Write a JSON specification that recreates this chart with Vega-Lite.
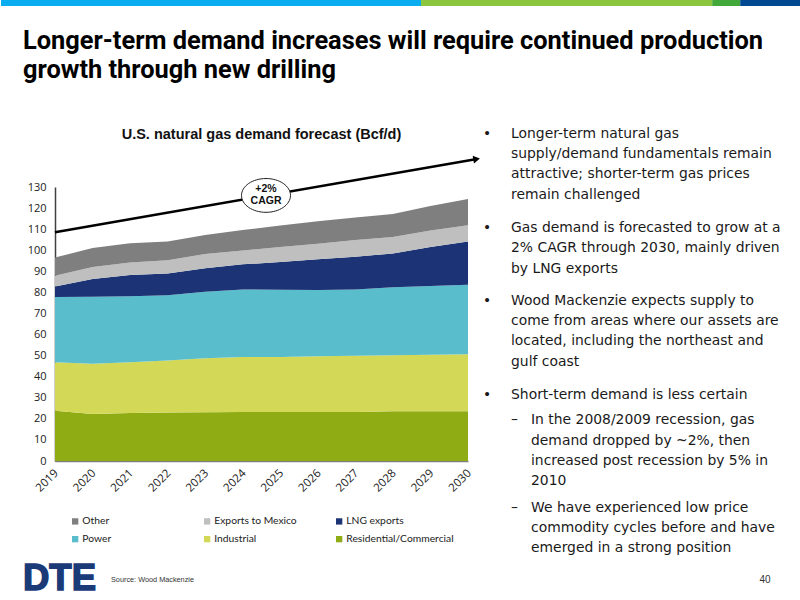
{
  "$schema": "https://vega.github.io/schema/vega-lite/v6.json",
  "padding": 0,
  "background": "white",
  "spacing": 6,
  "config": {"view": {"stroke": null}},
  "resolve": {"scale": {"color": "independent"}},
  "vconcat": [
    {
      "spacing": 23,
      "resolve": {"scale": {"color": "independent"}},
      "vconcat": [
        {
          "width": 746,
          "height": 6,
          "data": {"values": [
            {"segment": "a", "share": 52.5, "rank": 1},
            {"segment": "b", "share": 36.4, "rank": 2},
            {"segment": "c", "share": 3.5, "rank": 3},
            {"segment": "d", "share": 7.6, "rank": 4}
          ]},
          "mark": {"type": "bar", "size": 6},
          "encoding": {
            "x": {"field": "share", "type": "quantitative", "stack": "zero", "axis": null, "scale": {"domain": [6.75, 100], "nice": false, "zero": false}},
            "order": {"field": "rank"},
            "color": {"field": "segment", "type": "nominal", "legend": null, "scale": {"domain": ["a", "b", "c", "d"], "range": ["#0aaef0", "#8cc63f", "#43a83a", "#004990"]}}
          }
        },
        {
          "title": {
            "text": ["Longer-term demand increases will require continued production", "growth through new drilling"],
            "anchor": "start",
            "dx": 22,
            "offset": 43,
            "font": "Roboto",
            "fontSize": 25.4,
            "fontWeight": "bold",
            "color": "#000000",
            "lineHeight": 29
          },
          "spacing": 2,
          "hconcat": [
            {
              "width": 413,
              "height": 274,
              "title": {
                "text": "U.S. natural gas demand forecast (Bcf/d)",
                "font": "Liberation Sans",
                "fontSize": 14.5,
                "fontWeight": "bold",
                "color": "#111111",
                "offset": 12
              },
              "encoding": {
                "x": {
                  "field": "year",
                  "type": "quantitative",
                  "title": null,
                  "scale": {"domain": [2019, 2030], "nice": false, "zero": false},
                  "axis": {
                    "values": [2019, 2020, 2021, 2022, 2023, 2024, 2025, 2026, 2027, 2028, 2029, 2030],
                    "format": "d",
                    "labelAngle": -45,
                    "labelFont": "Open Sans",
                    "labelFontSize": 11.5,
                    "labelColor": "#222222",
                    "ticks": false,
                    "grid": false,
                    "domainColor": "#7f7f7f",
                    "domainWidth": 1.5,
                    "labelPadding": 6,
                    "labelOffset": -3,
                    "labelBound": false,
                    "labelFlush": false,
                    "labelOverlap": false
                  }
                },
                "y": {
                  "field": "bcfd",
                  "type": "quantitative",
                  "stack": "zero",
                  "title": null,
                  "scale": {"domain": [0, 130], "nice": false},
                  "axis": {
                    "values": [0, 10, 20, 30, 40, 50, 60, 70, 80, 90, 100, 110, 120, 130],
                    "labelFont": "Open Sans",
                    "labelFontSize": 11,
                    "labelColor": "#222222",
                    "ticks": false,
                    "grid": false,
                    "domainColor": "#404040",
                    "domainWidth": 1.5,
                    "labelPadding": 9,
                    "labelOverlap": false,
                    "minExtent": 54,
                    "maxExtent": 54
                  }
                }
              },
              "layer": [
                {
                  "data": {"values": [
                    {"year": 2019, "series": "Residential/Commercial", "rank": 1, "bcfd": 23.8},
                    {"year": 2020, "series": "Residential/Commercial", "rank": 1, "bcfd": 22.3},
                    {"year": 2021, "series": "Residential/Commercial", "rank": 1, "bcfd": 22.8},
                    {"year": 2022, "series": "Residential/Commercial", "rank": 1, "bcfd": 23.0},
                    {"year": 2023, "series": "Residential/Commercial", "rank": 1, "bcfd": 23.1},
                    {"year": 2024, "series": "Residential/Commercial", "rank": 1, "bcfd": 23.3},
                    {"year": 2025, "series": "Residential/Commercial", "rank": 1, "bcfd": 23.3},
                    {"year": 2026, "series": "Residential/Commercial", "rank": 1, "bcfd": 23.3},
                    {"year": 2027, "series": "Residential/Commercial", "rank": 1, "bcfd": 23.3},
                    {"year": 2028, "series": "Residential/Commercial", "rank": 1, "bcfd": 23.6},
                    {"year": 2029, "series": "Residential/Commercial", "rank": 1, "bcfd": 23.6},
                    {"year": 2030, "series": "Residential/Commercial", "rank": 1, "bcfd": 23.6},
                    {"year": 2019, "series": "Industrial", "rank": 2, "bcfd": 23.1},
                    {"year": 2020, "series": "Industrial", "rank": 2, "bcfd": 23.8},
                    {"year": 2021, "series": "Industrial", "rank": 2, "bcfd": 24.1},
                    {"year": 2022, "series": "Industrial", "rank": 2, "bcfd": 24.7},
                    {"year": 2023, "series": "Industrial", "rank": 2, "bcfd": 25.7},
                    {"year": 2024, "series": "Industrial", "rank": 2, "bcfd": 26.0},
                    {"year": 2025, "series": "Industrial", "rank": 2, "bcfd": 26.1},
                    {"year": 2026, "series": "Industrial", "rank": 2, "bcfd": 26.4},
                    {"year": 2027, "series": "Industrial", "rank": 2, "bcfd": 26.6},
                    {"year": 2028, "series": "Industrial", "rank": 2, "bcfd": 26.6},
                    {"year": 2029, "series": "Industrial", "rank": 2, "bcfd": 26.8},
                    {"year": 2030, "series": "Industrial", "rank": 2, "bcfd": 27.1},
                    {"year": 2019, "series": "Power", "rank": 3, "bcfd": 30.9},
                    {"year": 2020, "series": "Power", "rank": 3, "bcfd": 31.8},
                    {"year": 2021, "series": "Power", "rank": 3, "bcfd": 31.3},
                    {"year": 2022, "series": "Power", "rank": 3, "bcfd": 31.0},
                    {"year": 2023, "series": "Power", "rank": 3, "bcfd": 31.5},
                    {"year": 2024, "series": "Power", "rank": 3, "bcfd": 32.1},
                    {"year": 2025, "series": "Power", "rank": 3, "bcfd": 31.8},
                    {"year": 2026, "series": "Power", "rank": 3, "bcfd": 31.4},
                    {"year": 2027, "series": "Power", "rank": 3, "bcfd": 31.5},
                    {"year": 2028, "series": "Power", "rank": 3, "bcfd": 32.2},
                    {"year": 2029, "series": "Power", "rank": 3, "bcfd": 32.6},
                    {"year": 2030, "series": "Power", "rank": 3, "bcfd": 32.9},
                    {"year": 2019, "series": "LNG exports", "rank": 4, "bcfd": 5.0},
                    {"year": 2020, "series": "LNG exports", "rank": 4, "bcfd": 8.4},
                    {"year": 2021, "series": "LNG exports", "rank": 4, "bcfd": 10.0},
                    {"year": 2022, "series": "LNG exports", "rank": 4, "bcfd": 10.3},
                    {"year": 2023, "series": "LNG exports", "rank": 4, "bcfd": 11.2},
                    {"year": 2024, "series": "LNG exports", "rank": 4, "bcfd": 11.9},
                    {"year": 2025, "series": "LNG exports", "rank": 4, "bcfd": 13.2},
                    {"year": 2026, "series": "LNG exports", "rank": 4, "bcfd": 14.6},
                    {"year": 2027, "series": "LNG exports", "rank": 4, "bcfd": 15.5},
                    {"year": 2028, "series": "LNG exports", "rank": 4, "bcfd": 16.1},
                    {"year": 2029, "series": "LNG exports", "rank": 4, "bcfd": 18.5},
                    {"year": 2030, "series": "LNG exports", "rank": 4, "bcfd": 20.6},
                    {"year": 2019, "series": "Exports to Mexico", "rank": 5, "bcfd": 5.1},
                    {"year": 2020, "series": "Exports to Mexico", "rank": 5, "bcfd": 5.7},
                    {"year": 2021, "series": "Exports to Mexico", "rank": 5, "bcfd": 6.0},
                    {"year": 2022, "series": "Exports to Mexico", "rank": 5, "bcfd": 6.3},
                    {"year": 2023, "series": "Exports to Mexico", "rank": 5, "bcfd": 6.7},
                    {"year": 2024, "series": "Exports to Mexico", "rank": 5, "bcfd": 6.6},
                    {"year": 2025, "series": "Exports to Mexico", "rank": 5, "bcfd": 7.1},
                    {"year": 2026, "series": "Exports to Mexico", "rank": 5, "bcfd": 7.4},
                    {"year": 2027, "series": "Exports to Mexico", "rank": 5, "bcfd": 7.9},
                    {"year": 2028, "series": "Exports to Mexico", "rank": 5, "bcfd": 7.8},
                    {"year": 2029, "series": "Exports to Mexico", "rank": 5, "bcfd": 7.9},
                    {"year": 2030, "series": "Exports to Mexico", "rank": 5, "bcfd": 7.6},
                    {"year": 2019, "series": "Other", "rank": 6, "bcfd": 8.6},
                    {"year": 2020, "series": "Other", "rank": 6, "bcfd": 9.1},
                    {"year": 2021, "series": "Other", "rank": 6, "bcfd": 9.1},
                    {"year": 2022, "series": "Other", "rank": 6, "bcfd": 8.8},
                    {"year": 2023, "series": "Other", "rank": 6, "bcfd": 9.0},
                    {"year": 2024, "series": "Other", "rank": 6, "bcfd": 9.7},
                    {"year": 2025, "series": "Other", "rank": 6, "bcfd": 10.2},
                    {"year": 2026, "series": "Other", "rank": 6, "bcfd": 10.6},
                    {"year": 2027, "series": "Other", "rank": 6, "bcfd": 10.7},
                    {"year": 2028, "series": "Other", "rank": 6, "bcfd": 10.9},
                    {"year": 2029, "series": "Other", "rank": 6, "bcfd": 11.6},
                    {"year": 2030, "series": "Other", "rank": 6, "bcfd": 12.5}
                  ]},
                  "mark": {"type": "area"},
                  "encoding": {
                    "order": {"field": "rank"},
                    "color": {
                      "field": "series",
                      "type": "nominal",
                      "scale": {
                        "domain": ["Other", "Exports to Mexico", "LNG exports", "Power", "Industrial", "Residential/Commercial"],
                        "range": ["#7f7f7f", "#bfbfbf", "#1c3476", "#59bdcb", "#d3d856", "#8fac14"]
                      },
                      "legend": {
                        "title": null,
                        "orient": "none",
                        "legendX": 15,
                        "legendY": 329,
                        "direction": "horizontal",
                        "columns": 3,
                        "gridAlign": "all",
                        "symbolType": "square",
                        "symbolSize": 40,
                        "labelFont": "Lato",
                        "labelFontSize": 10.3,
                        "labelColor": "#222222",
                        "labelOffset": 2,
                        "columnPadding": 12,
                        "rowPadding": 7,
                        "labelLimit": 140
                      }
                    }
                  }
                },
                {
                  "data": {"values": [
                    {"year": 2019, "bcfd": 108.5},
                    {"year": 2030.2, "bcfd": 143.2}
                  ]},
                  "mark": {"type": "line", "color": "#000000", "strokeWidth": 2.5}
                },
                {
                  "data": {"values": [{"year": 2030.2, "bcfd": 143.2}]},
                  "mark": {"type": "point", "shape": "triangle", "filled": true, "opacity": 1, "color": "#000000", "angle": 80, "size": 60}
                },
                {
                  "data": {"values": [{"year": 2024.62, "bcfd": 126, "note": "+2%\nCAGR"}]},
                  "layer": [
                    {
                      "mark": {
                        "type": "point",
                        "shape": "M-1,0 A1,0.69 0 1 1 1,0 A1,0.69 0 1 1 -1,0 Z",
                        "filled": true,
                        "fill": "#ffffff",
                        "stroke": "#222222",
                        "strokeWidth": 1,
                        "opacity": 1,
                        "size": 2400
                      }
                    },
                    {
                      "mark": {
                        "type": "text",
                        "font": "Liberation Sans",
                        "fontWeight": "bold",
                        "fontSize": 10.5,
                        "color": "#111111",
                        "lineBreak": "\n",
                        "lineHeight": 12,
                        "dy": -6
                      },
                      "encoding": {"text": {"field": "note"}}
                    }
                  ]
                }
              ]
            },
            {
              "width": 300,
              "height": 361,
              "data": {"values": [
                {"line": 0, "indent": 0, "text": "•"},
                {"line": 0, "indent": 1, "text": "Longer-term natural gas"},
                {"line": 1, "indent": 1, "text": "supply/demand fundamentals remain"},
                {"line": 2, "indent": 1, "text": "attractive; shorter-term gas prices"},
                {"line": 3, "indent": 1, "text": "remain challenged"},
                {"line": 4.65, "indent": 0, "text": "•"},
                {"line": 4.65, "indent": 1, "text": "Gas demand is forecasted to grow at a"},
                {"line": 5.65, "indent": 1, "text": "2% CAGR through 2030, mainly driven"},
                {"line": 6.65, "indent": 1, "text": "by LNG exports"},
                {"line": 8.25, "indent": 0, "text": "•"},
                {"line": 8.25, "indent": 1, "text": "Wood Mackenzie expects supply to"},
                {"line": 9.25, "indent": 1, "text": "come from areas where our assets are"},
                {"line": 10.25, "indent": 1, "text": "located, including the northeast and"},
                {"line": 11.25, "indent": 1, "text": "gulf coast"},
                {"line": 12.87, "indent": 0, "text": "•"},
                {"line": 12.87, "indent": 1, "text": "Short-term demand is less certain"},
                {"line": 14.15, "indent": 1, "text": "–"},
                {"line": 14.15, "indent": 1.714, "text": "In the 2008/2009 recession, gas"},
                {"line": 15.15, "indent": 1.714, "text": "demand dropped by ~2%, then"},
                {"line": 16.15, "indent": 1.714, "text": "increased post recession by 5% in"},
                {"line": 17.15, "indent": 1.714, "text": "2010"},
                {"line": 18.45, "indent": 1, "text": "–"},
                {"line": 18.45, "indent": 1.714, "text": "We have experienced low price"},
                {"line": 19.45, "indent": 1.714, "text": "commodity cycles before and have"},
                {"line": 20.45, "indent": 1.714, "text": "emerged in a strong position"}
              ]},
              "mark": {"type": "text", "align": "left", "baseline": "middle", "font": "DejaVu Sans", "fontSize": 13.9, "color": "#1a1a1a"},
              "encoding": {
                "x": {"field": "indent", "type": "quantitative", "axis": null, "scale": {"domain": [0, 10.71], "nice": false, "zero": true}},
                "y": {"field": "line", "type": "quantitative", "axis": null, "scale": {"domain": [2.62, 20.45], "reverse": true, "nice": false, "zero": false}},
                "text": {"field": "text"}
              }
            }
          ]
        }
      ]
    },
    {
      "spacing": 556,
      "hconcat": [
        {
          "spacing": 15,
          "hconcat": [
            {
              "width": 41,
              "height": 30,
              "data": {"values": [{"label": "DTE"}]},
              "mark": {"type": "text", "align": "right", "baseline": "middle", "font": "Liberation Sans", "fontWeight": "bold", "fontSize": 36.5, "color": "#1b3a78", "stroke": "#1b3a78", "strokeWidth": 1.5},
              "encoding": {"x": {"value": "width"}, "text": {"field": "label"}}
            },
            {
              "width": 90,
              "height": 30,
              "data": {"values": [{"label": "Source: Wood Mackenzie"}]},
              "mark": {"type": "text", "align": "left", "baseline": "middle", "dy": 1, "font": "Liberation Sans", "fontSize": 7.3, "color": "#333333"},
              "encoding": {"x": {"value": 0}, "text": {"field": "label"}}
            }
          ]
        },
        {
          "width": 16,
          "height": 30,
          "data": {"values": [{"label": "40"}]},
          "mark": {"type": "text", "dy": 1, "font": "Liberation Sans", "fontSize": 10, "color": "#333333"},
          "encoding": {"text": {"field": "label"}}
        }
      ]
    }
  ]
}
